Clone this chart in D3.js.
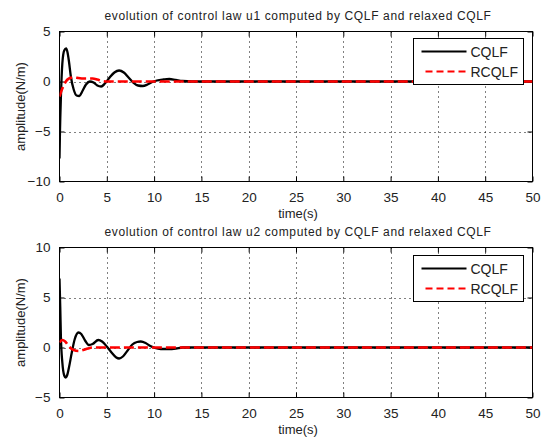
<!DOCTYPE html>
<html>
<head>
<meta charset="utf-8">
<script src="https://cdn.jsdelivr.net/npm/d3@7"></script>
<style>
  body { margin: 0; background: #fff; }
  svg { display: block; font-family: "Liberation Sans", Arial, sans-serif; }
  .grid line { stroke: #000; stroke-width: 1; stroke-dasharray: 1,4; }
</style>
</head>
<body>
<div class="chart"></div>
<script>
// data
var xTicks = [0, 5, 10, 15, 20, 25, 30, 35, 40, 45, 50];

var t1Cqlf = [0, 0.05, 0.15, 0.3, 0.5, 0.7, 0.85, 1.0, 1.2, 1.5, 1.8, 2.1, 2.4, 2.8, 3.2, 3.6, 4.0, 4.4, 4.8, 5.3, 5.8, 6.3, 6.8, 7.3, 7.8, 8.3, 8.8, 9.3, 9.8, 10.3, 11, 11.6, 12.3, 13, 14, 20, 30, 40, 50];
var u1Cqlf = [-7.7, -5, -1.5, 1.8, 3.1, 3.3, 2.9, 2.0, 0.5, -0.8, -1.4, -1.45, -1.0, -0.3, 0.0, -0.1, -0.4, -0.5, -0.2, 0.4, 0.9, 1.1, 0.9, 0.4, -0.1, -0.4, -0.45, -0.3, -0.05, 0.1, 0.2, 0.25, 0.15, 0.05, 0, 0, 0, 0, 0];

var t1Rcqlf = [0, 0.3, 0.6, 1.0, 1.5, 2.0, 2.5, 3.0, 3.5, 4.0, 4.5, 5, 6, 20, 50];
var u1Rcqlf = [-1.5, -0.7, -0.1, 0.3, 0.4, 0.35, 0.3, 0.3, 0.3, 0.2, 0.05, 0, 0, 0, 0];

var t2Cqlf = [0, 0.08, 0.15, 0.3, 0.5, 0.65, 0.8, 1.0, 1.3, 1.6, 2.0, 2.3, 2.7, 3.1, 3.5, 4.1, 4.5, 5.0, 5.5, 6.0, 6.3, 6.7, 7.2, 7.7, 8.2, 8.6, 9.1, 9.6, 10.1, 10.7, 11.5, 12.3, 13, 14, 20, 30, 40, 50];
var u2Cqlf = [6.9, 4, 1, -1.5, -2.8, -3.0, -2.8, -2.0, -0.5, 0.8, 1.5, 1.35, 0.7, 0.25, 0.35, 0.75, 0.6, 0.1, -0.5, -1.0, -1.1, -0.9, -0.3, 0.3, 0.55, 0.6, 0.45, 0.15, -0.05, -0.15, -0.15, -0.1, 0, 0, 0, 0, 0, 0];

var t2Rcqlf = [0, 0.3, 0.6, 1.0, 1.5, 2.0, 2.5, 3.0, 3.5, 5, 20, 50];
var u2Rcqlf = [0.5, 0.75, 0.6, 0.1, -0.25, -0.35, -0.25, -0.1, 0, 0, 0, 0];

var seriesNames = ["CQLF", "RCQLF"];

var svg = d3.select(".chart").append("svg")
  .attr("width", 544)
  .attr("height", 441);

function drawPanel(opt) {
  var x = d3.scaleLinear().domain([0, 50]).range([59.5, 532.5]);
  var y = d3.scaleLinear().domain(opt.yDomain).range([opt.bottom, opt.top]);

  var g = svg.append("g");
  var clipId = "clip" + opt.id;
  svg.append("clipPath").attr("id", clipId)
    .append("rect")
    .attr("x", x(0)).attr("y", opt.top)
    .attr("width", x(50) - x(0)).attr("height", opt.bottom - opt.top);

  // grid
  var grid = g.append("g").attr("class", "grid");
  grid.selectAll(".vx").data(xTicks.slice(1, -1)).enter().append("line")
    .attr("x1", d => Math.round(x(d)) + 0.5).attr("x2", d => Math.round(x(d)) + 0.5)
    .attr("y1", opt.top).attr("y2", opt.bottom);
  grid.selectAll(".hy").data(opt.yTicks.slice(1, -1)).enter().append("line")
    .attr("x1", x(0)).attr("x2", x(50))
    .attr("y1", d => Math.round(y(d)) + 0.5).attr("y2", d => Math.round(y(d)) + 0.5);

  // axes, ticks pointing inward like matlab
  var bottomAxis = d3.axisBottom(x).tickValues(xTicks).tickSizeInner(-5).tickSizeOuter(0).tickPadding(11);
  var topAxis = d3.axisTop(x).tickValues(xTicks).tickSizeInner(-5).tickSizeOuter(0).tickFormat("");
  var leftAxis = d3.axisLeft(y).tickValues(opt.yTicks).tickSizeInner(-5).tickSizeOuter(0).tickPadding(9);
  var rightAxis = d3.axisRight(y).tickValues(opt.yTicks).tickSizeInner(-5).tickSizeOuter(0).tickFormat("");

  [
    g.append("g").attr("transform", `translate(0,${opt.bottom})`).call(bottomAxis),
    g.append("g").attr("transform", `translate(0,${opt.top})`).call(topAxis),
    g.append("g").attr("transform", `translate(${x(0)},0)`).call(leftAxis),
    g.append("g").attr("transform", `translate(${x(50)},0)`).call(rightAxis)
  ].forEach(function(ax) {
    ax.select(".domain").remove();
    ax.selectAll("line").attr("stroke", "#000");
    ax.selectAll("text").attr("fill", "#222").style("font-size", "13.5px")
      .style("font-family", "Liberation Sans, Arial, sans-serif");
  });

  g.append("rect")
    .attr("x", x(0)).attr("y", opt.top)
    .attr("width", x(50) - x(0)).attr("height", opt.bottom - opt.top)
    .attr("fill", "none").attr("stroke", "#000").attr("stroke-width", 1);

  var line = d3.line()
    .x(d => x(d[0]))
    .y(d => y(d[1]))
    .curve(d3.curveMonotoneX);

  var lines = g.append("g").attr("clip-path", `url(#${clipId})`);
  lines.append("path")
    .datum(d3.zip(opt.tA, opt.vA))
    .attr("d", line)
    .attr("fill", "none").attr("stroke", "#000").attr("stroke-width", 2.3);
  lines.append("path")
    .datum(d3.zip(opt.tB, opt.vB))
    .attr("d", line)
    .attr("fill", "none").attr("stroke", "#ff0000").attr("stroke-width", 2.6)
    .attr("stroke-dasharray", "10,4");

  // title and labels
  g.append("text")
    .attr("x", (x(0) + x(50)) / 2 + 2).attr("y", opt.top - 12)
    .attr("text-anchor", "middle")
    .attr("fill", "#222")
    .style("font-size", "12px").style("letter-spacing", "0.65px")
    .text(opt.title);
  g.append("text")
    .attr("x", (x(0) + x(50)) / 2 + 2).attr("y", opt.bottom + 36)
    .attr("text-anchor", "middle")
    .attr("fill", "#222")
    .style("font-size", "13px")
    .text("time(s)");
  g.append("text")
    .attr("transform", `translate(25,${(opt.top + opt.bottom) / 2}) rotate(-90)`)
    .attr("text-anchor", "middle")
    .attr("fill", "#222")
    .style("font-size", "13px")
    .text("amplitude(N/m)");

  // legend
  var lg = g.append("g").attr("transform", `translate(413.5,${opt.legendTop + 0.5})`);
  lg.append("rect").attr("width", 110).attr("height", 46)
    .attr("fill", "#fff").attr("stroke", "#000").attr("stroke-width", 1);
  lg.append("line").attr("x1", 8).attr("x2", 53).attr("y1", 13).attr("y2", 13)
    .attr("stroke", "#000").attr("stroke-width", 2);
  lg.append("line").attr("x1", 12).attr("x2", 53).attr("y1", 33).attr("y2", 33)
    .attr("stroke", "#ff0000").attr("stroke-width", 2).attr("stroke-dasharray", "7,4");
  lg.selectAll(".lt").data(seriesNames).enter().append("text")
    .attr("x", 57).attr("y", (d, i) => 18 + i * 20)
    .attr("fill", "#222")
    .style("font-size", "14px")
    .text(d => d);
}

drawPanel({
  id: 1, top: 31.5, bottom: 181.5, yDomain: [-10, 5], yTicks: [-10, -5, 0, 5],
  title: "evolution of control law u1 computed by CQLF and relaxed CQLF",
  tA: t1Cqlf, vA: u1Cqlf, tB: t1Rcqlf, vB: u1Rcqlf, legendTop: 38
});

drawPanel({
  id: 2, top: 247.5, bottom: 397.5, yDomain: [-5, 10], yTicks: [-5, 0, 5, 10],
  title: "evolution of control law u2 computed by CQLF and relaxed CQLF",
  tA: t2Cqlf, vA: u2Cqlf, tB: t2Rcqlf, vB: u2Rcqlf, legendTop: 255
});
</script>
</body>
</html>
